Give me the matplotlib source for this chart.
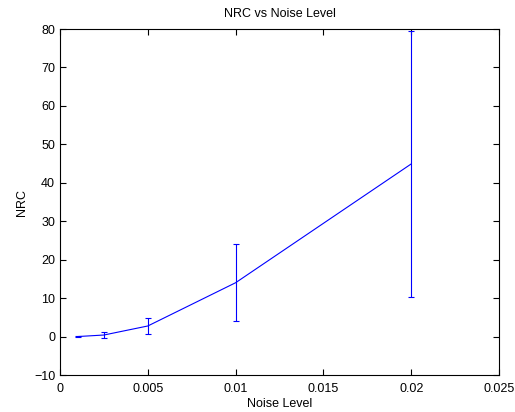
import matplotlib.pyplot as plt
import numpy as np

plt.rcParams['font.family'] = ['Liberation Sans', 'DejaVu Sans']

noise = [0.001, 0.0025, 0.005, 0.01, 0.02]
nrc = [0.0, 0.4, 2.75, 14.0, 44.9]
nrc_err = [0.15, 0.7, 2.15, 10.0, 34.6]

fig = plt.figure(figsize=(5.15, 4.12), dpi=100)
ax = fig.add_axes([60/515, 1 - 375/412, 439/515, 346/412])

ax.errorbar(noise, nrc, yerr=nrc_err, color='#0000ff', linewidth=0.8,
            elinewidth=0.8, capsize=2.5, capthick=0.8)

ax.set_xlim(0, 0.025)
ax.set_ylim(-10, 80)
ax.set_xticks([0, 0.005, 0.01, 0.015, 0.02, 0.025])
ax.set_xticklabels(['0', '0.005', '0.01', '0.015', '0.02', '0.025'])
ax.set_yticks(np.arange(-10, 81, 10))
ax.tick_params(direction='in', top=True, right=True, labelsize=9, length=4)
ax.tick_params(axis='x', pad=6)
for s in ax.spines.values():
    s.set_linewidth(0.8)

ax.set_title('NRC vs Noise Level', fontsize=9, pad=9)
ax.set_xlabel('Noise Level', fontsize=9, labelpad=2)
ax.set_ylabel('NRC', fontsize=9, labelpad=4)

plt.savefig('out.png', dpi=100)
